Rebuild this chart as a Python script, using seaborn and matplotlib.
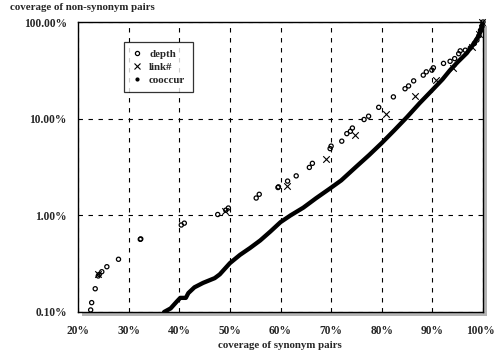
import numpy as np
import pandas as pd
import matplotlib
matplotlib.use('Agg')
import matplotlib.pyplot as plt
import matplotlib.ticker as mticker
from matplotlib.patches import Rectangle
from matplotlib.lines import Line2D
import seaborn as sns

# values (x = coverage of synonym pairs %, y = coverage of non-synonym pairs %)
depth_x = [22.5, 22.7, 23.4, 24.0, 24.2, 24.7, 25.7, 28.0, 32.3, 32.4, 40.4, 41.0, 47.6, 49.2, 49.7,
           55.2, 55.8, 59.5, 59.6, 61.4, 63.1, 65.7, 66.3, 69.8, 70.0, 72.1, 73.1, 73.8, 74.2, 76.5,
           77.4, 79.4, 82.3, 84.6, 85.3, 86.3, 88.2, 88.8, 89.9, 90.2, 92.2, 93.5, 94.4, 95.2, 95.5,
           96.5, 97.5, 98.3, 98.8, 99.2, 99.5, 99.8, 100.0]
depth_y = [0.105, 0.125, 0.174, 0.236, 0.245, 0.261, 0.294, 0.351, 0.565, 0.57, 0.794, 0.83, 1.02, 1.13, 1.19,
           1.51, 1.65, 1.94, 1.97, 2.26, 2.56, 3.13, 3.45, 4.9, 5.2, 5.85, 7.0, 7.4, 8.0, 9.8,
           10.6, 13.1, 16.8, 20.4, 21.8, 24.6, 28.2, 30.5, 31.8, 33.6, 37.3, 39.2, 41.8, 47.0, 50.3,
           51.1, 54.0, 60.0, 65.0, 72.0, 82.0, 90.0, 100.0]

link_x = [23.9, 49.0, 61.2, 69.0, 74.7, 80.9, 86.6, 90.7, 94.0, 97.8, 99.2, 99.8]
link_y = [0.25, 1.11, 2.0, 3.8, 6.7, 11.1, 17.2, 25.0, 33.5, 55.0, 75.0, 100.0]

cooc_x = [37.0, 38.3, 39.5, 40.2, 41.3, 41.8, 43.0, 44.7, 47.0, 48.0, 50.0, 52.0, 54.0, 56.0, 58.0,
          60.0, 62.0, 64.5, 67.0, 69.8, 72.0, 75.0, 77.5, 80.0, 82.5, 85.0, 87.5, 90.0, 92.0, 93.5,
          95.0, 96.8, 98.0, 99.0, 99.4, 100.0]
cooc_y = [0.100, 0.109, 0.128, 0.14, 0.14, 0.157, 0.18, 0.20, 0.224, 0.245, 0.32, 0.39, 0.46, 0.55, 0.68,
          0.85, 1.0, 1.2, 1.5, 1.9, 2.3, 3.2, 4.2, 5.6, 7.6, 10.4, 14.5, 19.8, 25.5, 31.8,
          38.5, 47.7, 58.0, 70.0, 77.0, 100.0]

x_ticks = [20, 30, 40, 50, 60, 70, 80, 90, 100]
y_ticks = [0.1, 1, 10, 100]
y_tick_labels = ['0.10%', '1.00%', '10.00%', '100.00%']

sns.set_style('white')
plt.rcParams['font.family'] = ['Liberation Serif', 'DejaVu Serif']
plt.rcParams['font.weight'] = 'bold'

fig = plt.figure(figsize=(4.96, 3.56), dpi=100)
ax = fig.add_axes([78 / 496, 1 - 312 / 356, 405 / 496, 290 / 356])

# drop shadow behind the plot box
fig.patches.append(Rectangle((82 / 496, 1 - 316 / 356), 405 / 496, 290 / 356,
                             transform=fig.transFigure, facecolor='#b4b4b4', edgecolor='none', zorder=-1))

ax.set_yscale('log')
sns.lineplot(x=cooc_x, y=cooc_y, ax=ax, color='black', lw=3.1, sort=False, zorder=3)
sns.scatterplot(x=depth_x, y=depth_y, ax=ax, marker='o', s=9, facecolor='none',
                edgecolor='black', linewidth=0.9, zorder=4, clip_on=False)
sns.scatterplot(x=link_x, y=link_y, ax=ax, marker='x', s=22, color='black',
                linewidth=0.8, zorder=4, clip_on=False)

ax.set_xlim(20, 100)
ax.set_ylim(0.1, 100)
ax.set_xticks(x_ticks)
ax.set_xticklabels([f'{t}%' for t in x_ticks])
ax.xaxis.set_minor_locator(mticker.MultipleLocator(2))
ax.set_yticks(y_ticks)
ax.set_yticklabels(y_tick_labels)
ax.yaxis.set_minor_locator(mticker.LogLocator(base=10, subs=np.arange(2, 10)))
ax.yaxis.set_minor_formatter(mticker.NullFormatter())
ax.tick_params(which='both', direction='in', labelsize=8.3, color='black')
ax.tick_params(which='major', length=5, width=0.8)
ax.tick_params(axis='x', which='major', pad=9)
ax.tick_params(axis='y', which='major', pad=8)
ax.tick_params(which='minor', length=3, width=0.8)
# keep the last x label inside the picture
ax.get_xticklabels()[-1].set_horizontalalignment('right')
ax.get_xticklabels()[-1].set_x(100)
for lab in ax.get_xticklabels()[-1:]:
    lab.set_transform(lab.get_transform() + matplotlib.transforms.ScaledTranslation(12 / 100, 0, fig.dpi_scale_trans))

ax.grid(True, which='major', linestyle=(0, (4, 5)), color='black', lw=0.8)
for sp in ax.spines.values():
    sp.set_color('black')
    sp.set_linewidth(1.0)

fig.text(10 / 496, 1 - 8 / 356, 'coverage of non-synonym pairs', fontsize=7.8,
         fontweight='bold', ha='left', va='center')
fig.text(280 / 496, 1 - 345 / 356, 'coverage of synonym pairs', fontsize=7.8,
         fontweight='bold', ha='center', va='center')

handles = [Line2D([], [], marker='o', ls='none', markersize=3.0, markerfacecolor='none',
                  markeredgecolor='black', markeredgewidth=0.9),
           Line2D([], [], marker='x', ls='none', markersize=5, color='black', markeredgewidth=0.8),
           Line2D([], [], marker='.', ls='none', markersize=4, color='black')]
leg = ax.legend(handles, ['depth', 'link#', 'cooccur'], loc='upper left',
                bbox_to_anchor=(0.114, 0.931), fontsize=7.8, frameon=True, fancybox=False,
                handlelength=1.0, handletextpad=0.6, borderpad=0.7, labelspacing=0.3,
                borderaxespad=0)
leg.get_frame().set_edgecolor('black')
leg.get_frame().set_linewidth(0.9)

fig.savefig('out.png', dpi=100)
